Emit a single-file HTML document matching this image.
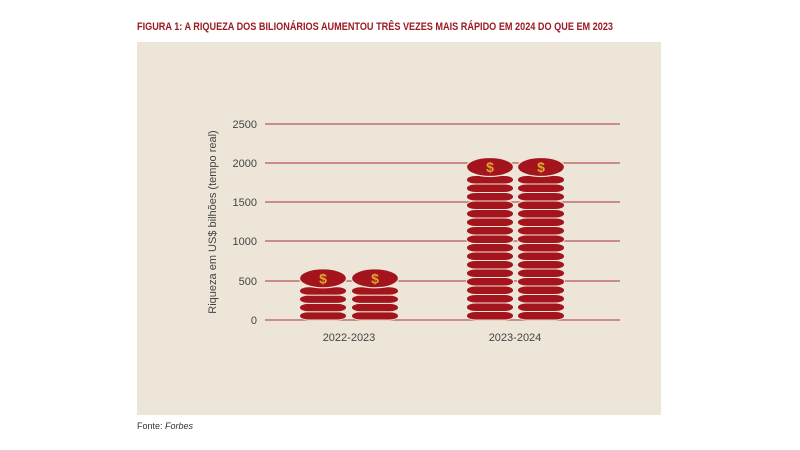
<!DOCTYPE html>
<html><head><meta charset="utf-8"><style>
body{margin:0;background:#fff;width:800px;height:445px;overflow:hidden;font-family:"Liberation Sans",sans-serif}
</style></head><body>
<svg width="800" height="445" xmlns="http://www.w3.org/2000/svg" font-family="Liberation Sans, sans-serif">
<text x="137" y="30" font-size="11" font-weight="bold" fill="#9b1b22" textLength="476" lengthAdjust="spacingAndGlyphs">FIGURA 1: A RIQUEZA DOS BILIONÁRIOS AUMENTOU TRÊS VEZES MAIS RÁPIDO EM 2024 DO QUE EM 2023</text>
<rect x="137" y="42" width="524" height="373" fill="#ede6d8"/>
<g stroke="#b5575a" stroke-width="1.2">
<line x1="265" x2="620" y1="124" y2="124"/><line x1="265" x2="620" y1="163" y2="163"/>
<line x1="265" x2="620" y1="202" y2="202"/><line x1="265" x2="620" y1="241" y2="241"/>
<line x1="265" x2="620" y1="281" y2="281"/><line x1="265" x2="620" y1="320" y2="320"/>
</g>
<g font-size="11" fill="#444" text-anchor="end">
<text x="257" y="128">2500</text><text x="257" y="167">2000</text><text x="257" y="206">1500</text>
<text x="257" y="245">1000</text><text x="257" y="285">500</text><text x="257" y="324">0</text>
</g>
<text transform="translate(216,222) rotate(-90)" font-size="11" fill="#444" text-anchor="middle">Riqueza em US$ bilhões (tempo real)</text>
<g font-size="11" fill="#444" text-anchor="middle">
<text x="349" y="341">2022-2023</text><text x="515" y="341">2023-2024</text>
</g>
<g id="stacks"></g>
<text x="137" y="429" font-size="9" fill="#333">Fonte: <tspan font-style="italic">Forbes</tspan></text>
</svg>
<script>
var g=document.getElementById('stacks'),out='';
function stack(cx,n,h){
 var b=320;
 for(var i=0;i<n;i++){var y=b-(i+1)*h;out+='<rect x="'+(cx-23.5)+'" y="'+y+'" width="47" height="'+h+'" rx="9" ry="4" fill="#a3141d" stroke="#ede6d8" stroke-width="1"/>';}
 var top=b-n*h;
 out+='<ellipse cx="'+cx+'" cy="'+(top-8.5)+'" rx="23.5" ry="9.5" fill="#a3141d" stroke="#ede6d8" stroke-width="1.2"/>';
 out+='<text x="'+cx+'" y="'+(top-3.5)+'" font-size="14" font-weight="bold" fill="#e0a630" text-anchor="middle">$</text>';
}
stack(323,4,8.3);stack(375,4,8.3);stack(490,17,8.5);stack(541,17,8.5);
g.innerHTML=out;
</script>
</body></html>
